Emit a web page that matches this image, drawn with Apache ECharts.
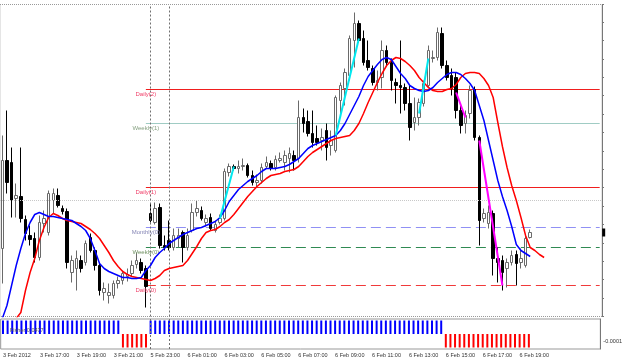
<!DOCTYPE html>
<html>
<head>
<meta charset="utf-8">
<script src="https://cdn.jsdelivr.net/npm/echarts@6/dist/echarts.min.js"></script>
<style>
html, body { margin: 0; padding: 0; background: #fff; }
#chart { width: 625px; height: 360px; }
</style>
</head>
<body>
<div id="chart"></div>
<script>
// EURUSD M15, 3 Feb 15:00 .. 6 Feb 19:30
var timeLabels = ['3 Feb 2012', '3 Feb 17:00', '3 Feb 19:00', '3 Feb 21:00', '5 Feb 23:00',
  '6 Feb 01:00', '6 Feb 03:00', '6 Feb 05:00', '6 Feb 07:00', '6 Feb 09:00', '6 Feb 11:00',
  '6 Feb 13:00', '6 Feb 15:00', '6 Feb 17:00', '6 Feb 19:00'];

var opens = [
  1.3176, 1.3220, 1.3219, 1.3201, 1.3202, 1.31905, 1.31825, 1.3181, 1.31715, 1.31885,
  1.3184, 1.3200, 1.32025, 1.3196, 1.31945, 1.3164, 1.3166, 1.3170, 1.3169, 1.31815,
  1.3175, 1.31675, 1.3154, 1.31525, 1.31525, 1.31585, 1.3160, 1.3162, 1.31635, 1.3168,
  1.3169, 1.3166, 1.31935, 1.3189, 1.31965, 1.31775, 1.3180, 1.31765, 1.3181, 1.3184,
  1.31765, 1.3185, 1.3194, 1.3195, 1.3189, 1.31915, 1.3185, 1.3189, 1.3191, 1.3214,
  1.3217, 1.3216, 1.3217, 1.32175, 1.32125, 1.3209, 1.3210, 1.3217, 1.32185, 1.32165,
  1.3220, 1.3219, 1.3221, 1.32225, 1.3221, 1.32415, 1.32395, 1.32335, 1.3231, 1.3230,
  1.3235, 1.32275, 1.3225, 1.3250, 1.3256, 1.32625, 1.3280, 1.32885, 1.3281, 1.3270,
  1.3266, 1.3259, 1.32615, 1.3275, 1.3269, 1.3259, 1.32575, 1.32565, 1.32485, 1.3239,
  1.32415, 1.32485, 1.32575, 1.3271, 1.32715, 1.32835, 1.32675, 1.32625, 1.32615, 1.3245,
  1.32385, 1.32435, 1.32555, 1.32315, 1.3191, 1.31885, 1.31935, 1.3171, 1.3170, 1.3166,
  1.3169, 1.3173, 1.3169, 1.31675, 1.31815];
var highs = [
  1.32325, 1.3245, 1.32265, 1.32085, 1.32265, 1.31925, 1.31875, 1.3184, 1.31925, 1.3195,
  1.3205, 1.3206, 1.3206, 1.31975, 1.3196, 1.31725, 1.3175, 1.31725, 1.3180, 1.31835,
  1.31765, 1.3169, 1.3159, 1.31585, 1.3160, 1.3162, 1.3165, 1.3166, 1.3170, 1.3174,
  1.3171, 1.31675, 1.31985, 1.3199, 1.31985, 1.31825, 1.3190, 1.3186, 1.3186, 1.3185,
  1.3186, 1.31985, 1.3200, 1.3197, 1.3193, 1.31935, 1.3190, 1.3193, 1.3216, 1.32185,
  1.3218, 1.3220, 1.3221, 1.32185, 1.3215, 1.3213, 1.32185, 1.3222, 1.3220, 1.32225,
  1.3224, 1.3225, 1.32265, 1.3225, 1.3250, 1.3246, 1.3245, 1.3245, 1.32375, 1.3236,
  1.32385, 1.3235, 1.32525, 1.3259, 1.3266, 1.32825, 1.3294, 1.3290, 1.3285, 1.3280,
  1.32675, 1.3265, 1.3280, 1.32775, 1.3271, 1.3261, 1.3280, 1.32585, 1.32575, 1.32515,
  1.3251, 1.3260, 1.32775, 1.3275, 1.32865, 1.32865, 1.3270, 1.3266, 1.3264, 1.32475,
  1.3245, 1.32575, 1.3257, 1.32325, 1.3196, 1.31975, 1.3195, 1.31765, 1.31725, 1.3171,
  1.3175, 1.3175, 1.3176, 1.31825, 1.31855];
var lows = [
  1.31585, 1.32035, 1.31915, 1.31915, 1.3189, 1.3180, 1.31775, 1.3169, 1.3170, 1.3184,
  1.31825, 1.31935, 1.31965, 1.3193, 1.3166, 1.3159, 1.3155, 1.3164, 1.31675, 1.3174,
  1.3165, 1.31525, 1.3150, 1.31485, 1.3151, 1.3156, 1.3158, 1.31595, 1.3162, 1.3166,
  1.31635, 1.31465, 1.3189, 1.3188, 1.3176, 1.3175, 1.3175, 1.3175, 1.31765, 1.3169,
  1.3175, 1.3184, 1.3192, 1.3190, 1.3187, 1.3185, 1.3184, 1.3188, 1.3190, 1.3212,
  1.3215, 1.32135, 1.3215, 1.32115, 1.32075, 1.32065, 1.32085, 1.3216, 1.3215, 1.3215,
  1.3219, 1.3215, 1.3214, 1.3215, 1.3219, 1.3234, 1.3232, 1.32265, 1.32275, 1.3225,
  1.3220, 1.32225, 1.3224, 1.32425, 1.32475, 1.3260, 1.32665, 1.3279, 1.32675, 1.3265,
  1.32575, 1.3255, 1.3256, 1.32675, 1.3255, 1.32485, 1.32435, 1.3245, 1.3230, 1.3235,
  1.32375, 1.3247, 1.32565, 1.3269, 1.3270, 1.3266, 1.3260, 1.32525, 1.3241, 1.32335,
  1.32335, 1.3241, 1.3230, 1.31775, 1.3189, 1.3186, 1.31625, 1.3159, 1.3155, 1.31565,
  1.31675, 1.31575, 1.3166, 1.31665, 1.3181];
var closes = [
  1.3220, 1.3209, 1.3200, 1.32025, 1.3191, 1.31835, 1.31805, 1.31715, 1.3189, 1.3191,
  1.32035, 1.32035, 1.31975, 1.31945, 1.3169, 1.3170, 1.3171, 1.3166, 1.31785, 1.3175,
  1.31675, 1.3155, 1.3156, 1.3154, 1.31585, 1.3160, 1.31635, 1.3163, 1.31675, 1.3170,
  1.3165, 1.3157, 1.3190, 1.3196, 1.31775, 1.31765, 1.31765, 1.31825, 1.31825, 1.31765,
  1.31825, 1.3194, 1.3196, 1.3191, 1.3191, 1.3186, 1.3188, 1.3191, 1.32145, 1.3217,
  1.3216, 1.3217, 1.32175, 1.32125, 1.3209, 1.3210, 1.32165, 1.3219, 1.3216, 1.32205,
  1.3221, 1.32225, 1.32235, 1.3220, 1.32415, 1.32385, 1.32335, 1.3229, 1.3229, 1.32315,
  1.32265, 1.3230, 1.32515, 1.32575, 1.3264, 1.3281, 1.32885, 1.3280, 1.3269, 1.32665,
  1.3259, 1.3260, 1.3275, 1.3269, 1.3260, 1.32575, 1.32565, 1.32485, 1.32365, 1.32415,
  1.3249, 1.32585, 1.3275, 1.32715, 1.3284, 1.32675, 1.32615, 1.3256, 1.3245, 1.32375,
  1.32425, 1.3255, 1.32315, 1.3190, 1.31935, 1.3194, 1.3171, 1.3169, 1.3164, 1.3169,
  1.31725, 1.31685, 1.3171, 1.3181, 1.3184];

// fast MA (blue) and slow MA (red, drawn 3 bars ahead)
var maFast = [
  1.3141, 1.31475, 1.31575, 1.31675, 1.3176, 1.31835, 1.3189, 1.3193, 1.3194, 1.3193,
  1.3192, 1.3192, 1.31915, 1.3191, 1.31905, 1.3190, 1.31885, 1.3187, 1.3185, 1.3181,
  1.3175, 1.31685, 1.3166, 1.31645, 1.31635, 1.31625, 1.31615, 1.31615, 1.3161, 1.3161,
  1.31615, 1.3165, 1.31675, 1.31715, 1.3174, 1.3176, 1.31785, 1.3180, 1.31815, 1.3183,
  1.3184, 1.3185, 1.3186, 1.31865, 1.31875, 1.31885, 1.31895, 1.31915, 1.3195, 1.31995,
  1.32025, 1.32055, 1.32075, 1.32095, 1.3211, 1.32125, 1.32145, 1.3216, 1.3216, 1.3216,
  1.32165, 1.3217, 1.3218, 1.32195, 1.3221, 1.32235, 1.3226, 1.32275, 1.32285, 1.32295,
  1.32305, 1.32315, 1.32325, 1.3235, 1.32385, 1.3243, 1.32475, 1.3252, 1.32575, 1.3262,
  1.3265, 1.3268, 1.32705, 1.32715, 1.32705, 1.3267, 1.32635, 1.3261, 1.32575, 1.3256,
  1.3255, 1.32545, 1.3255, 1.32565, 1.3259, 1.3261, 1.3263, 1.3264, 1.3264, 1.3263,
  1.3261, 1.32585, 1.3255, 1.32475, 1.3240, 1.3230, 1.3220, 1.3210, 1.3202, 1.3195,
  1.3187, 1.3178, 1.3175, 1.31735, 1.3172];
var maSlow = [
  1.3130, 1.31325, 1.31375, 1.3141, 1.3144, 1.3155, 1.3164, 1.3171, 1.3180, 1.31865,
  1.31915, 1.31935, 1.31925, 1.3191, 1.3190, 1.31895, 1.3189, 1.31885, 1.3187, 1.31855,
  1.31835, 1.3181, 1.31775, 1.3174, 1.3170, 1.3167, 1.31645, 1.3163, 1.3162, 1.31615,
  1.3161, 1.31605, 1.3160, 1.3161, 1.31625, 1.3165, 1.3166, 1.31665, 1.3167, 1.31675,
  1.3170, 1.31735, 1.3177, 1.3181, 1.3184, 1.3185, 1.31855, 1.3187, 1.3189, 1.31905,
  1.3193, 1.3196, 1.3199, 1.3202, 1.32045, 1.3207, 1.3209, 1.3211, 1.32125, 1.3213,
  1.32135, 1.32145, 1.3215, 1.32155, 1.3217, 1.32195, 1.3222, 1.3224, 1.32255, 1.3227,
  1.32285, 1.3230, 1.3231, 1.32315, 1.3232, 1.32325, 1.3235, 1.32385, 1.32435, 1.3249,
  1.3254, 1.3259, 1.32635, 1.32675, 1.3270, 1.32715, 1.3271, 1.32695, 1.32675, 1.3265,
  1.32615, 1.3259, 1.32565, 1.3255, 1.32545, 1.32545, 1.32555, 1.3256, 1.3258, 1.32615,
  1.32635, 1.3264, 1.3264, 1.32635, 1.3261, 1.32575, 1.32515, 1.3239, 1.3227, 1.32165,
  1.32075, 1.3200, 1.31915, 1.31825, 1.31765, 1.3175, 1.3173, 1.31715];

// sub window histogram, one value per bar
var trendHist = [
  0.00018, 0.00018, 0.00018, 0.00018, 0.00018, 0.00018, 0.00018, 0.00018, 0.00018, 0.00018,
  0.00018, 0.00018, 0.00018, 0.00018, 0.00018, 0.00018, 0.00018, 0.00018, 0.00018, 0.00018,
  0.00018, 0.00018, 0.00018, 0.00018, 0.00018, 0.00018, -0.00018, -0.00018, -0.00018, -0.00018,
  -0.00018, -0.00018, 0.00018, 0.00018, 0.00018, 0.00018, 0.00018, 0.00018, 0.00018, 0.00018,
  0.00018, 0.00018, 0.00018, 0.00018, 0.00018, 0.00018, 0.00018, 0.00018, 0.00018, 0.00018,
  0.00018, 0.00018, 0.00018, 0.00018, 0.00018, 0.00018, 0.00018, 0.00018, 0.00018, 0.00018,
  0.00018, 0.00018, 0.00018, 0.00018, 0.00018, 0.00018, 0.00018, 0.00018, 0.00018, 0.00018,
  0.00018, 0.00018, 0.00018, 0.00018, 0.00018, 0.00018, 0.00018, 0.00018, 0.00018, 0.00018,
  0.00018, 0.00018, 0.00018, 0.00018, 0.00018, 0.00018, 0.00018, 0.00018, 0.00018, 0.00018,
  0.00018, 0.00018, 0.00018, 0.00018, 0.00018, 0.00018, -0.00018, -0.00018, -0.00018, -0.00018,
  -0.00018, -0.00018, -0.00018, -0.00018, -0.00018, -0.00018, -0.00018, -0.00018, -0.00018, -0.00018,
  -0.00018, -0.00018, -0.00018, -0.00018, -0.00018];

var pivotNames = ['Daily(2)', 'Weekly(1)', 'Daily(1)', 'Monthly(0)', 'Weekly(0)', 'Daily(0)'];
var pivotValues = [1.32555, 1.32385, 1.32065, 1.31865, 1.31765, 1.31575];
var bidPrice = 1.3184;
var separatorBars = [32, 36];

// [fromBar, fromPrice, toBar, toPrice]
var upSwings = [[47, 1.3191, 50, 1.3217], [72, 1.32325, 77, 1.3281], [90, 1.32435, 92, 1.3271]];
var downSwings = [[98, 1.3254, 100, 1.32415], [103, 1.3230, 108, 1.31575]];

var barSlots = 130;
var pivotStart = 31;

var cats = [];
for (var i = 0; i < barSlots; i++) cats.push(String(i));

var candles = [];
for (var i = 0; i < opens.length; i++) {
  candles.push([opens[i], closes[i], lows[i], highs[i]]);
}

var pivotColor = ['#f01e1e', '#a0ccc4', '#f01e1e', '#9090f4', '#2f8a52', '#f03a3a'];
var pivotType = ['solid', 'solid', 'solid', [10, 5], [10, 5], [10, 5]];
var pivotLabelColor = ['#f0406a', '#86a080', '#f0406a', '#8585b5', '#6f9060', '#f0406a'];

function swingSeries(list, color) {
  return list.map(function (s) {
    return { type: 'line', xAxisIndex: 0, yAxisIndex: 0, z: 7, showSymbol: false, silent: true,
      data: [[s[0], s[1]], [s[2], s[3]]], lineStyle: { color: color, width: 2 } };
  });
}

var sepLines = separatorBars.map(function (b) { return { xAxis: b }; });

// one series per pivot level: horizontal segment plus its caption
var pivotSeries = pivotValues.map(function (v, k) {
  return {
    type: 'line', xAxisIndex: 0, yAxisIndex: 0, z: 3, showSymbol: false, silent: true,
    data: [[pivotStart, v], [barSlots - 1, v]],
    lineStyle: { color: pivotColor[k], type: pivotType[k], width: 1 },
    markPoint: {
      silent: true, animation: false, symbol: 'circle', symbolSize: 1,
      itemStyle: { color: 'rgba(0,0,0,0)' },
      label: { show: true, position: 'bottom', distance: 1, color: pivotLabelColor[k],
        fontSize: 6, fontFamily: 'Liberation Sans', formatter: pivotNames[k] },
      data: [{ coord: [pivotStart, v] }]
    }
  };
});

var chart = echarts.init(document.getElementById('chart'));
chart.setOption({
  animation: false,
  backgroundColor: '#fff',
  textStyle: { fontFamily: 'Liberation Sans' },
  title: {
    text: 'Fisher 0.0477', left: 5, top: 322, z: 20,
    textStyle: { fontSize: 5.5, color: '#555', fontWeight: 'normal', fontFamily: 'Liberation Sans' }
  },
  grid: [
    { left: 0, right: 23, top: 4.5, height: 312, show: true, borderColor: '#999', borderType: 'dotted', backgroundColor: '#fff' },
    { left: 0, right: 23, top: 319, height: 30, show: true, borderColor: '#999', borderWidth: 1 }
  ],
  xAxis: [
    { type: 'category', gridIndex: 0, data: cats, boundaryGap: true,
      axisLine: { show: false }, axisTick: { show: false }, axisLabel: { show: false }, splitLine: { show: false } },
    { type: 'category', gridIndex: 1, data: cats, boundaryGap: true,
      axisLine: { show: false }, axisTick: { show: false }, splitLine: { show: false },
      axisLabel: {
        interval: 0, align: 'left', margin: 3, fontSize: 5.5, color: '#333',
        formatter: function (v, idx) { return idx % 8 === 0 && timeLabels[idx / 8] ? timeLabels[idx / 8] : ''; }
      } }
  ],
  yAxis: [
    { type: 'value', gridIndex: 0, position: 'right', min: 1.3142, max: 1.3298, interval: 0.00092,
      axisLine: { show: true, lineStyle: { color: '#777' } },
      axisTick: { show: true, inside: false, length: 2, lineStyle: { color: '#777' } },
      axisLabel: { show: false }, splitLine: { show: false } },
    { type: 'value', gridIndex: 1, position: 'right', min: -0.0002, max: 0.0002, interval: 0.0001,
      axisLine: { show: true, lineStyle: { color: '#777' } },
      axisTick: { show: false }, splitLine: { show: false },
      axisLabel: { show: true, margin: 3, fontSize: 5.5, color: '#333',
        formatter: function (v) { return Math.abs(v + 0.0001) < 1e-9 ? '-0.0001' : ''; } } }
  ],
  series: pivotSeries.concat([
    {
      type: 'candlestick', xAxisIndex: 0, yAxisIndex: 0, data: candles, barWidth: 3, z: 4,
      itemStyle: { color: '#ffffff', color0: '#000000', borderColor: '#6a6a6a', borderColor0: '#000000', borderWidth: 1 },
      markLine: {
        silent: true, symbol: 'none', label: { show: false }, animation: false,
        data: [{ yAxis: bidPrice, lineStyle: { color: '#c8c8c8', type: 'dotted', width: 1 } }]
          .concat(sepLines.map(function (d) { return { xAxis: d.xAxis, lineStyle: { color: '#707070', type: [2, 2], width: 1 } }; }))
      },
      markPoint: {
        silent: true, animation: false, symbol: 'rect', symbolSize: [3, 8], symbolOffset: [4, 0],
        itemStyle: { color: '#000' }, label: { show: false },
        data: [{ coord: [barSlots - 1, bidPrice] }]
      }
    },
    { type: 'line', xAxisIndex: 0, yAxisIndex: 0, data: maSlow, showSymbol: false, z: 5,
      lineStyle: { color: '#ff0000', width: 1.5 } },
    { type: 'line', xAxisIndex: 0, yAxisIndex: 0, data: maFast, showSymbol: false, z: 6,
      lineStyle: { color: '#0000ff', width: 1.5 } },
    {
      type: 'bar', xAxisIndex: 1, yAxisIndex: 1, barWidth: 2,
      data: trendHist.map(function (v) { return { value: v, itemStyle: { color: v > 0 ? '#0000ff' : '#ff0000' } }; }),
      markLine: { silent: true, symbol: 'none', label: { show: false }, animation: false,
        lineStyle: { color: '#707070', type: [2, 2], width: 1 }, data: sepLines }
    }
  ]).concat(swingSeries(upSwings, '#00e8f0')).concat(swingSeries(downSwings, '#ff00ff'))
});
</script>
</body>
</html>
